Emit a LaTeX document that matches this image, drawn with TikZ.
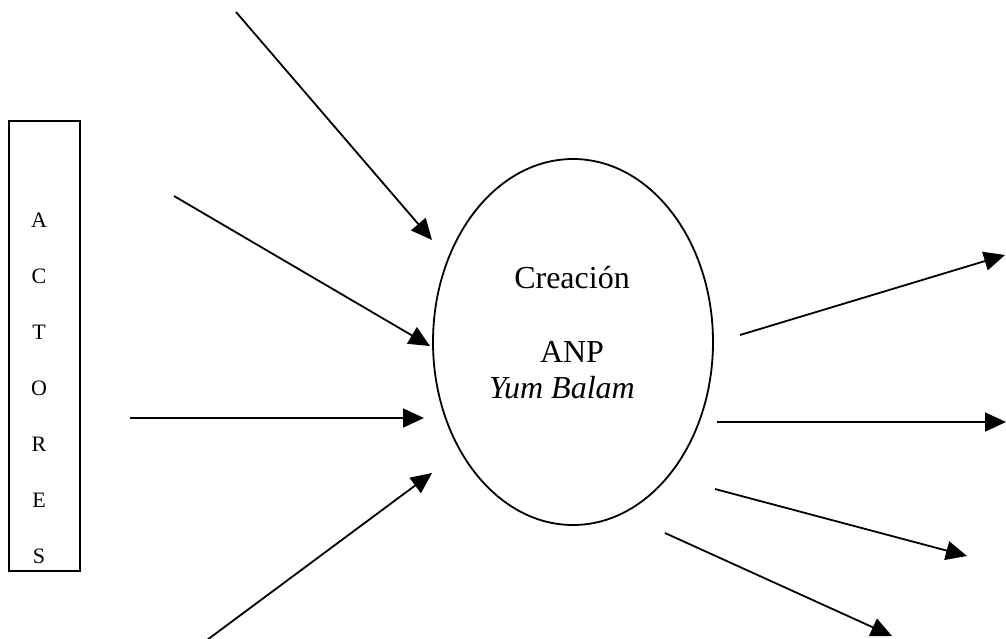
\documentclass[tikz,border=0pt]{standalone}
\usepackage{fontspec}
\setmainfont{Liberation Serif}
\usetikzlibrary{arrows.meta,shapes.geometric}
\tikzset{
  flow/.style={line width=1.8pt, -{Triangle[length=21pt,width=19pt]}},
  letter/.style={inner sep=0pt, font=\fontsize{22}{26}\selectfont},
  caption/.style={inner sep=0pt, anchor=base, font=\fontsize{32}{38}\selectfont}
}
\begin{document}
\begin{tikzpicture}[x=1pt,y=-1pt]
\useasboundingbox (0,0) rectangle (1006,638);

% actors column
\draw[line width=2pt] (9,121) rectangle (80,571);
\node[letter] (lA) at (39,220) {A};
\node[letter] (lC) at (39,276) {C};
\node[letter] (lT) at (39,332) {T};
\node[letter] (lO) at (39,388) {O};
\node[letter] (lR) at (39,444) {R};
\node[letter] (lE) at (39,500) {E};
\node[letter] (lS) at (39,556) {S};

% central process
\node[ellipse, draw, line width=1.8pt, minimum width=280pt, minimum height=366pt, inner sep=0pt] (anp) at (573,342) {};
\node[caption] (t1) at (572,288) {Creación};
\node[caption] (t2) at (572,362) {ANP};
\node[caption] (t3) at (562,398) {\itshape Yum Balam};

% incoming arrows
\coordinate (i1s) at (236,12);  \coordinate (i1e) at (432,240);
\coordinate (i2s) at (174,196); \coordinate (i2e) at (430,346);
\coordinate (i3s) at (130,418); \coordinate (i3e) at (424,418);
\coordinate (i4s) at (207,640); \coordinate (i4e) at (432,473);
\draw[flow] (i1s) -- (i1e);
\draw[flow] (i2s) -- (i2e);
\draw[flow] (i3s) -- (i3e);
\draw[flow] (i4s) -- (i4e);

% outgoing arrows
\coordinate (o1s) at (740,335); \coordinate (o1e) at (1005,255);
\coordinate (o2s) at (717,422); \coordinate (o2e) at (1006,422);
\coordinate (o3s) at (715,489); \coordinate (o3e) at (967,556);
\coordinate (o4s) at (665,533); \coordinate (o4e) at (892,636);
\draw[flow] (o1s) -- (o1e);
\draw[flow] (o2s) -- (o2e);
\draw[flow] (o3s) -- (o3e);
\draw[flow] (o4s) -- (o4e);
\end{tikzpicture}
\end{document}
